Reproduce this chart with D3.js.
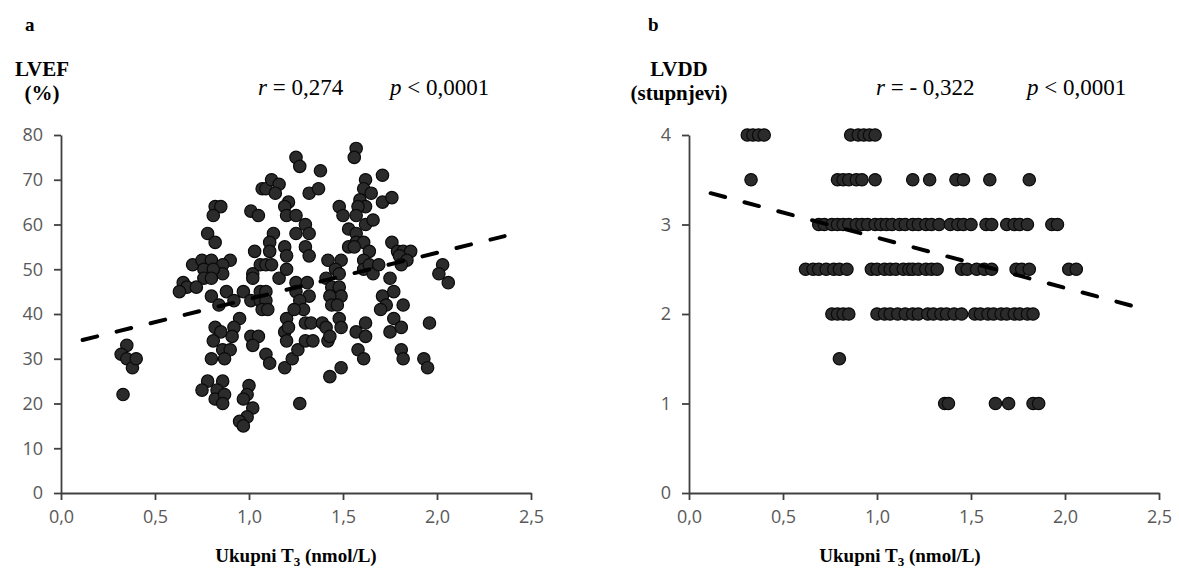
<!DOCTYPE html>
<html>
<head>
<meta charset="utf-8">
<script src="https://cdn.jsdelivr.net/npm/d3@7"></script>
<style>
  body { margin: 0; background: #fff; }
  svg { display: block; }
  .tick text { font-family: "Open Sans", sans-serif; font-size: 18px; fill: #595959; }
  .axis path, .axis line { stroke: #404040; stroke-width: 1.8; }
</style>
</head>
<body>
<svg width="1179" height="577"></svg>
<script>
// panel a: total T3 vs LVEF (%)
var lvefT3 = [0.82,0.85,0.81,1.01,1.05,1.07,1.09,1.12,1.16,1.14,0.78,0.82,1.13,1.11,1.03,1.11,
  0.70,0.75,0.80,0.90,0.86,0.86,0.76,0.81,0.76,0.80,1.02,1.06,1.09,1.12,1.02,1.16,
  0.65,0.67,0.63,0.72,0.80,0.84,0.88,0.92,0.97,1.01,1.06,1.09,1.06,1.09,1.07,1.10,
  0.95,0.92,0.91,0.82,0.85,0.81,0.86,0.90,0.87,0.80,1.01,1.05,1.02,1.09,1.11,
  1.20,1.19,1.21,1.20,1.19,1.23,1.26,0.35,0.32,0.35,0.38,0.40,0.33,
  0.78,0.75,0.86,0.83,0.82,0.87,0.86,1.00,0.99,0.97,1.02,0.99,0.95,0.97,1.27,
  1.57,1.56,1.25,1.27,1.38,1.71,1.32,1.37,1.62,1.61,1.59,1.65,1.62,1.58,1.71,1.76,
  1.21,1.19,1.20,1.25,1.48,1.50,1.57,1.53,1.57,1.62,1.66,1.30,1.32,1.25,
  1.57,1.61,1.53,1.56,1.64,1.61,1.61,1.64,1.66,1.69,1.76,1.79,1.82,1.86,1.80,1.84,1.81,
  2.03,2.01,2.06,1.19,1.20,1.30,1.32,1.20,1.42,1.49,1.46,1.41,1.48,
  1.25,1.31,1.25,1.32,1.27,1.29,1.24,1.44,1.48,1.49,1.43,1.44,1.47,
  1.71,1.75,1.77,1.73,1.70,1.82,
  1.30,1.33,1.30,1.34,1.39,1.41,1.42,1.43,1.48,1.49,1.43,1.49,
  1.57,1.62,1.62,1.58,1.61,1.77,1.81,1.75,1.81,1.82,1.96,1.93,1.95];
var lvef = [64,64,62,63,62,68,68,70,69,67,58,56,58,56,54,54,
  51,52,52,52,51,49,50,50,48,48,49,51,51,51,48,48,
  47,46,45,46,44,42,45,43,45,43,45,45,43,43,41,41,
  39,37,35,37,36,34,32,32,30,30,35,35,33,31,29,
  39,36,37,34,28,30,32,33,31,30,28,30,22,
  25,23,25,23,21,22,20,24,22,21,19,17,16,15,20,
  77,75,75,73,72,71,67,68,70,68,65.5,67,64,64,65,66,
  65,64,62,62,64,62,62,59,58,60,61,60,58,58,
  56,56,55,55,54,52,50,51,49,51,56,54,54,54,53,52,51,
  51,49,47,55,53,55,53,50,52,52,50,48,49,
  47,47,45,44,43,41,41,46,46,44,44,42,42,
  44,48,45,42,41,42,
  38,38,34,34,38,37,34,35,39,37,26,28,
  36,38,35,32,30,39,37,36,32,30,38,30,28];

// panel b: total T3 vs LVDD grade, one list of T3 values per grade
var lvddGrades = [4, 3.5, 3, 2.5, 2, 1.5, 1];
var lvddT3 = [
  [0.31,0.34,0.37,0.40,0.86,0.90,0.93,0.96,0.99],
  [0.33,0.79,0.82,0.85,0.89,0.92,0.99,1.19,1.28,1.42,1.46,1.60,1.81],
  [0.69,0.72,0.76,0.79,0.82,0.85,0.89,0.92,0.95,0.99,1.02,1.05,1.08,1.12,1.15,1.19,1.22,1.26,1.29,1.33,
   1.39,1.43,1.46,1.50,1.58,1.61,1.69,1.73,1.76,1.80,1.93,1.96],
  [0.62,0.66,0.69,0.73,0.77,0.80,0.84,0.97,1.00,1.04,1.07,1.10,1.14,1.17,1.19,1.22,1.26,1.29,1.32,
   1.45,1.48,1.53,1.57,1.61,1.74,1.77,1.81,2.02,2.06],
  [0.76,0.79,0.82,0.85,1.00,1.04,1.07,1.11,1.15,1.19,1.22,1.27,1.30,1.34,1.37,1.41,1.45,
   1.52,1.55,1.59,1.62,1.66,1.69,1.73,1.76,1.80,1.83],
  [0.80],
  [1.36,1.38,1.63,1.70,1.83,1.86]
];

// linear trend lines (ends)
var trendT3 = [0.115, 2.36];
var lvefTrend = [34.2, 57.4];
var lvddTrend = [3.35, 2.09];

var xTicks = [0, 0.5, 1, 1.5, 2, 2.5];
var lvefTicks = [0, 10, 20, 30, 40, 50, 60, 70, 80];
var lvddTicks = [0, 1, 2, 3, 4];

var svg = d3.select("svg");
var fmt = function(d) { return d3.format(".1f")(d).replace(".", ","); };

function panel(opt) {
  var x = d3.scaleLinear().domain([0, 2.5]).range([opt.left, opt.left + 470]);
  var y = d3.scaleLinear().domain(opt.yDomain).range([493, 135]);

  svg.append("g")
    .attr("class", "axis")
    .attr("transform", "translate(0,493)")
    .call(d3.axisBottom(x).tickValues(xTicks).tickFormat(fmt).tickSize(7).tickSizeOuter(0).tickPadding(10));

  svg.append("g")
    .attr("class", "axis")
    .attr("transform", "translate(" + opt.left + ",0)")
    .call(d3.axisLeft(y).tickValues(opt.yTicks).tickFormat(d3.format("d")).tickSize(7).tickSizeOuter(0).tickPadding(11));

  svg.append("g")
    .selectAll("circle")
    .data(opt.points)
    .enter().append("circle")
      .attr("cx", function(d) { return x(d[0]); })
      .attr("cy", function(d) { return y(d[1]); })
      .attr("r", 6.2)
      .attr("fill", "#2b2b2b")
      .attr("stroke", "#0a0a0a")
      .attr("stroke-width", 1.2);

  svg.append("path")
    .datum(d3.zip(trendT3, opt.trend))
    .attr("fill", "none")
    .attr("stroke", "#000")
    .attr("stroke-width", 4)
    .attr("stroke-linecap", "round")
    .attr("stroke-dasharray", "15,20")
    .attr("d", d3.line().x(function(d) { return x(d[0]); }).y(function(d) { return y(d[1]); }));

  var serif = "'Liberation Serif', 'Times New Roman', serif";

  svg.append("text")
    .attr("x", opt.letterX).attr("y", 31)
    .attr("font-family", serif).attr("font-weight", "bold").attr("font-size", 19)
    .text(opt.letter);

  svg.append("text")
    .attr("x", opt.labelX).attr("y", 76)
    .attr("text-anchor", "middle")
    .attr("font-family", serif).attr("font-weight", "bold").attr("font-size", 21)
    .text(opt.label1);
  svg.append("text")
    .attr("x", opt.labelX).attr("y", 100)
    .attr("text-anchor", "middle")
    .attr("font-family", serif).attr("font-weight", "bold").attr("font-size", 21)
    .text(opt.label2);

  var r = svg.append("text")
    .attr("x", opt.rX).attr("y", 95)
    .attr("font-family", serif).attr("font-size", 23);
  r.append("tspan").attr("font-style", "italic").text("r");
  r.append("tspan").text(" = " + opt.rText);

  var p = svg.append("text")
    .attr("x", opt.pX).attr("y", 95)
    .attr("font-family", serif).attr("font-size", 23);
  p.append("tspan").attr("font-style", "italic").text("p");
  p.append("tspan").text(" < 0,0001");

  var t = svg.append("text")
    .attr("x", opt.titleX).attr("y", 562)
    .attr("text-anchor", "middle")
    .attr("font-family", serif).attr("font-weight", "bold").attr("font-size", 19);
  t.append("tspan").text("Ukupni T");
  t.append("tspan").attr("font-size", 13).attr("dy", 4).text("3");
  t.append("tspan").attr("dy", -4).text(" (nmol/L)");
}

panel({
  left: 61,
  yDomain: [0, 80],
  yTicks: lvefTicks,
  points: d3.zip(lvefT3, lvef),
  trend: lvefTrend,
  letter: "a", letterX: 25,
  label1: "LVEF", label2: "(%)", labelX: 42,
  rText: "0,274", rX: 258, pX: 390,
  titleX: 296
});

var lvddPoints = [];
lvddGrades.forEach(function(g, i) {
  lvddT3[i].forEach(function(v) { lvddPoints.push([v, g]); });
});

panel({
  left: 689,
  yDomain: [0, 4],
  yTicks: lvddTicks,
  points: lvddPoints,
  trend: lvddTrend,
  letter: "b", letterX: 648,
  label1: "LVDD", label2: "(stupnjevi)", labelX: 679,
  rText: "- 0,322", rX: 876, pX: 1027,
  titleX: 900
});
</script>
</body>
</html>
